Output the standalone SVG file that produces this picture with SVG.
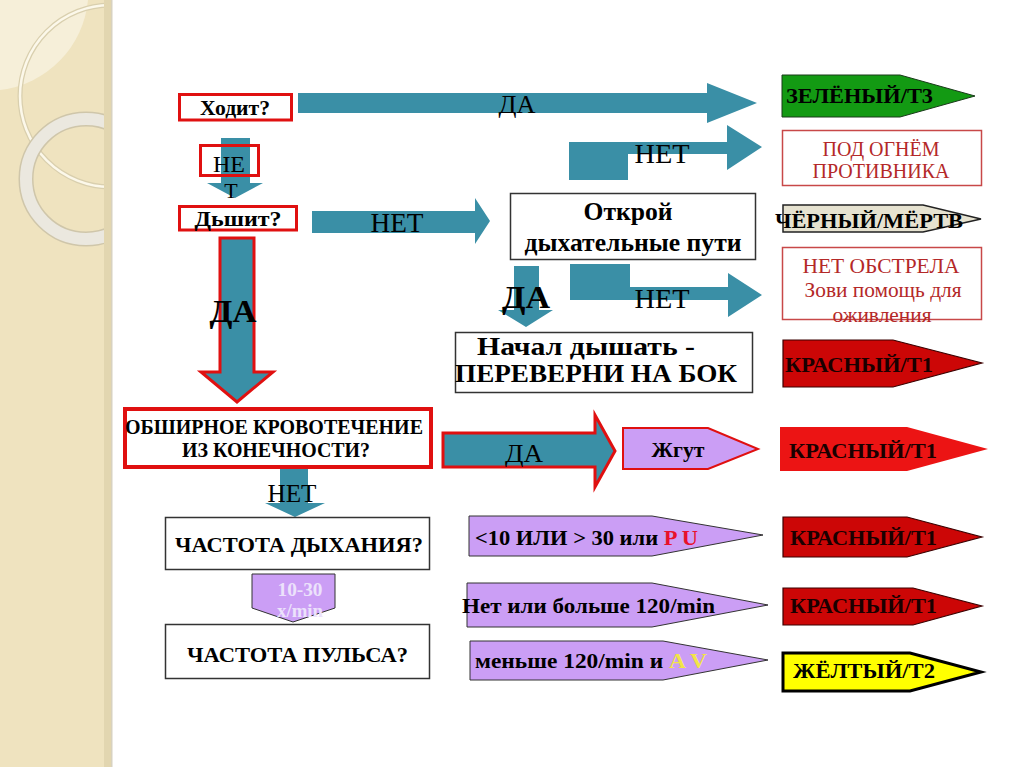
<svg xmlns="http://www.w3.org/2000/svg" width="1024" height="767" viewBox="0 0 1024 767">
<defs>
<clipPath id="panelClip"><rect x="0" y="0" width="110" height="767"/></clipPath>
<style>
text{font-family:"Liberation Serif","Times New Roman",serif;fill:#000}
.b{font-weight:bold}
.c{text-anchor:middle}
.teal{fill:#3a8fa6}
.tealr{fill:#3a8fa6;stroke:#e01010;stroke-width:3;stroke-linejoin:miter}
.rbox{fill:none;stroke:#e01010;stroke-width:3}
.kbox{fill:#fff;stroke:#333;stroke-width:1.5}
.dbox{fill:#fff;stroke:#c84848;stroke-width:1.5}
.purple{fill:#cb9ef5;stroke:#333;stroke-width:1}
.red{fill:#cc0606;stroke:#3a0000;stroke-width:1.2}
.dr{fill:#b42828}
</style>
</defs>
<rect width="1024" height="767" fill="#fff"/>
<g id="background">
<rect x="0" y="0" width="110" height="767" fill="#efe3bf"/>
<g clip-path="url(#panelClip)">
<path d="M0,0 H88 A100 100 0 0 1 0,90 Z" fill="#f6efd9"/>
<circle cx="111" cy="96" r="91" fill="none" stroke="#d9cfae" stroke-width="5"/>
<circle cx="111" cy="96" r="91" fill="none" stroke="#fcf8ea" stroke-width="2.5"/>
<circle cx="86" cy="179" r="60" fill="none" stroke="#cfc6aa" stroke-width="15"/>
<circle cx="86" cy="179" r="60" fill="none" stroke="#ebe8df" stroke-width="12"/>
</g>
<rect x="104" y="0" width="7" height="767" fill="#e2d6b0"/>
<rect x="111" y="0" width="1.5" height="767" fill="#d8d2c0"/>
</g>
<g id="connectors">
<polygon class="teal" points="298,93 707,93 707,83 757,103 707,123 707,113 298,113"/>
<text class="c" x="517" y="113" font-size="26" textLength="37" lengthAdjust="spacingAndGlyphs">ДА</text>
<polygon class="teal" points="569,142 727,142 727,125 762,147 727,170 727,154 628,154 628,180 569,180"/>
<text class="c" x="662" y="163" font-size="28" textLength="55" lengthAdjust="spacingAndGlyphs">НЕТ</text>
<polygon class="teal" points="221,138 250,138 250,183 263,183 235,198 207,183 221,183"/>
<polygon class="teal" points="312,211 475,211 475,198 490,221 475,244 475,233 312,233"/>
<text class="c" x="397" y="232" font-size="27" textLength="53" lengthAdjust="spacingAndGlyphs">НЕТ</text>
<polygon class="teal" points="514,266 539,266 539,310 553,310 526,327 498,310 514,310"/>
<text class="c b" x="526" y="308" font-size="32" textLength="48" lengthAdjust="spacingAndGlyphs">ДА</text>
<polygon class="teal" points="570,264 630,264 630,287 728,287 728,273 762,295 728,317 728,300 570,300"/>
<text class="c" x="662" y="308" font-size="27" textLength="55" lengthAdjust="spacingAndGlyphs">НЕТ</text>
<polygon class="tealr" points="220,238 254,238 254,372 273,372 237,402 201,372 220,372"/>
<text class="c b" x="233" y="322" font-size="32" textLength="47" lengthAdjust="spacingAndGlyphs">ДА</text>
<polygon class="teal" points="280,469 308,469 308,503 325,503 295,517 265,503 280,503"/>
<text class="c" x="292" y="502" font-size="25" textLength="49" lengthAdjust="spacingAndGlyphs">НЕТ</text>
<polygon class="tealr" points="443,433 595,433 595,415 615,451 595,487 595,467 443,467"/>
<text class="c" x="524" y="462" font-size="26" textLength="38" lengthAdjust="spacingAndGlyphs">ДА</text>
</g>
<g id="node-hodit">
<rect class="rbox" x="179.5" y="94.5" width="112" height="25.5"/>
<text class="c b" x="235" y="115" font-size="22" textLength="70" lengthAdjust="spacingAndGlyphs">Ходит?</text>
</g>
<g id="node-net1">
<rect class="rbox" x="200.5" y="145.5" width="58" height="30"/>
<text class="c" x="229" y="172" font-size="24" textLength="32" lengthAdjust="spacingAndGlyphs">НЕ</text>
<text class="c" x="231" y="198" font-size="22">Т</text>
</g>
<g id="node-dyshit">
<rect class="rbox" x="179.5" y="206.5" width="117" height="23.5"/>
<text class="c b" x="238" y="226" font-size="21" textLength="87" lengthAdjust="spacingAndGlyphs">Дьшит?</text>
</g>
<g id="node-otkroy">
<rect class="kbox" x="510.5" y="193.5" width="245" height="66"/>
<text class="c b" x="628" y="220" font-size="26" textLength="89" lengthAdjust="spacingAndGlyphs">Открой</text>
<text class="c b" x="633" y="251" font-size="26" textLength="217" lengthAdjust="spacingAndGlyphs">дыхательные пути</text>
</g>
<g id="node-nachal">
<rect class="kbox" x="455.5" y="332.5" width="297" height="60"/>
<text class="c b" x="586" y="355" font-size="26" textLength="218" lengthAdjust="spacingAndGlyphs">Начал дышать -</text>
<text class="c b" x="596" y="382" font-size="26" textLength="282" lengthAdjust="spacingAndGlyphs">ПЕРЕВЕРНИ НА БОК</text>
</g>
<g id="node-krovotechenie">
<rect x="125" y="409" width="306" height="58" fill="#fff" stroke="#e01010" stroke-width="4"/>
<text class="c b" x="274" y="434" font-size="20" textLength="298" lengthAdjust="spacingAndGlyphs">ОБШИРНОЕ КРОВОТЕЧЕНИЕ</text>
<text class="c b" x="276" y="457" font-size="20" textLength="188" lengthAdjust="spacingAndGlyphs">ИЗ КОНЕЧНОСТИ?</text>
</g>
<g id="node-chastota-dyh">
<rect class="kbox" x="165.5" y="517.5" width="264" height="52"/>
<text class="c b" x="299" y="552" font-size="22" textLength="248" lengthAdjust="spacingAndGlyphs">ЧАСТОТА ДЫХАНИЯ?</text>
</g>
<g id="node-10-30">
<polygon class="purple" points="252,574 335,574 335,608 293,622 252,608"/>
<text class="c b" x="300" y="596" font-size="19" textLength="45" lengthAdjust="spacingAndGlyphs" style="fill:#ece2fb">10-30</text>
<text class="c b" x="300" y="617" font-size="19" textLength="46" lengthAdjust="spacingAndGlyphs" style="fill:#ece2fb">x/min</text>
</g>
<g id="node-chastota-puls">
<rect class="kbox" x="165.5" y="624.5" width="264" height="54"/>
<text class="c b" x="297.5" y="662" font-size="22" textLength="221" lengthAdjust="spacingAndGlyphs">ЧАСТОТА ПУЛЬСА?</text>
</g>
<g id="node-zhgut">
<polygon points="623,428 708,428 758,449 708,469 623,469" fill="#cb9ef5" stroke="#e01010" stroke-width="2"/>
<text class="c b" x="678" y="457" font-size="20" textLength="53" lengthAdjust="spacingAndGlyphs">Жгут</text>
</g>
<g id="node-pu">
<polygon class="purple" points="469,516 652,516 763,535 652,556 469,556"/>
<text class="b" x="475" y="545" font-size="21" textLength="223" lengthAdjust="spacingAndGlyphs">&lt;10 ИЛИ &gt; 30 или <tspan style="fill:#e8102a">P U</tspan></text>
</g>
<g id="node-net-bolshe">
<polygon class="purple" points="467,583 652,583 768,605 652,627 467,627"/>
<text class="b" x="462" y="613" font-size="21" textLength="253" lengthAdjust="spacingAndGlyphs">Нет или  больше 120/min</text>
</g>
<g id="node-menshe">
<polygon class="purple" points="470,641 663,641 768,660 663,680 470,680"/>
<text class="b" x="475" y="668" font-size="21" textLength="232" lengthAdjust="spacingAndGlyphs">меньше 120/min  и  <tspan style="fill:#f2e448">A V</tspan></text>
</g>
<g id="node-green">
<polygon points="782,75 900,75 975,96 900,117 782,117" fill="#139a13" stroke="#1a3a1a" stroke-width="1"/>
<text class="b" x="786" y="103" font-size="21" textLength="147" lengthAdjust="spacingAndGlyphs">ЗЕЛЁНЫЙ/Т3</text>
</g>
<g id="node-pod-ognem">
<rect class="dbox" x="782.5" y="130.5" width="199" height="55"/>
<text class="c dr" x="881" y="156" font-size="20" textLength="117" lengthAdjust="spacingAndGlyphs">ПОД ОГНЁМ</text>
<text class="c dr" x="881" y="178" font-size="20" textLength="137" lengthAdjust="spacingAndGlyphs">ПРОТИВНИКА</text>
</g>
<g id="node-black">
<polygon points="783,205 923,205 981,219 923,232 783,232" fill="#e6e2d0" stroke="#222" stroke-width="1.5"/>
<text class="b" x="775" y="228" font-size="21" textLength="188" lengthAdjust="spacingAndGlyphs">ЧЁРНЫЙ/МЁРТВ</text>
</g>
<g id="node-net-obstrela">
<rect class="dbox" x="782.5" y="247.5" width="199" height="72"/>
<text class="c dr" x="881" y="273" font-size="20" textLength="157" lengthAdjust="spacingAndGlyphs">НЕТ ОБСТРЕЛА</text>
<text class="c dr" x="883" y="297" font-size="20" textLength="157" lengthAdjust="spacingAndGlyphs">Зови помощь для</text>
<text class="c dr" x="882" y="322" font-size="20" textLength="99" lengthAdjust="spacingAndGlyphs">оживления</text>
</g>
<g id="node-red1">
<polygon class="red" points="783,340 893,340 982,363 893,387 783,387"/>
<text class="b" x="785" y="372" font-size="21" textLength="148" lengthAdjust="spacingAndGlyphs" style="fill:#1a0000">КРАСНЫЙ/Т1</text>
</g>
<g id="node-red2">
<polygon points="780,427 907,427 988,449 907,471 780,471" fill="#ec1414"/>
<text class="b" x="789" y="458" font-size="21" textLength="148" lengthAdjust="spacingAndGlyphs" style="fill:#1a0000">КРАСНЫЙ/Т1</text>
</g>
<g id="node-red3">
<polygon class="red" points="783,517 907,517 982,537 907,557 783,557"/>
<text class="b" x="790" y="545" font-size="21" textLength="147" lengthAdjust="spacingAndGlyphs" style="fill:#1a0000">КРАСНЫЙ/Т1</text>
</g>
<g id="node-red4">
<polygon class="red" points="783,588 913,588 982,606 913,625 783,625"/>
<text class="b" x="790" y="613" font-size="21" textLength="147" lengthAdjust="spacingAndGlyphs" style="fill:#1a0000">КРАСНЫЙ/Т1</text>
</g>
<g id="node-yellow">
<polygon points="783,653 910,653 981,672 910,691 783,691" fill="#ffff00" stroke="#000" stroke-width="3"/>
<text class="b" x="793" y="678" font-size="21" textLength="142" lengthAdjust="spacingAndGlyphs">ЖЁЛТЫЙ/Т2</text>
</g>
</svg>
